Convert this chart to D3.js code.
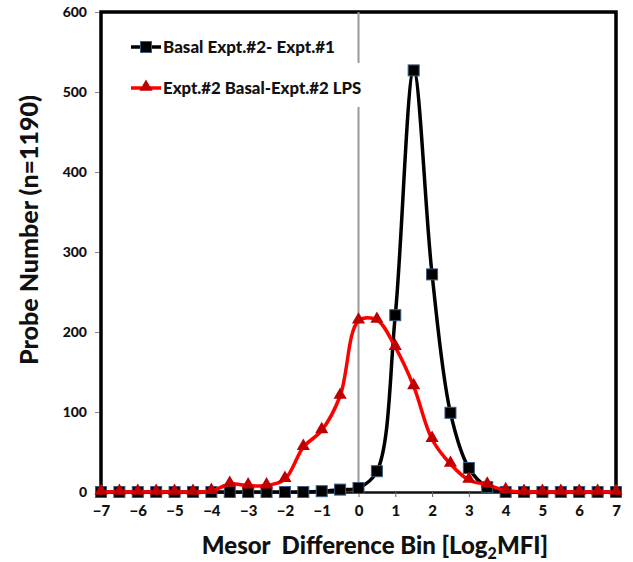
<!DOCTYPE html>
<html>
<head>
<meta charset="utf-8">
<script src="https://cdn.jsdelivr.net/npm/d3@7"></script>
<style>
  body { margin: 0; background: #fff; }
  text { font-family: Lato, "Open Sans", sans-serif; font-weight: 900; fill: #111; }
</style>
</head>
<body>
<div id="chart"></div>
<script>
// bins on the x axis, 0.5 apart
const bins = [-7, -6.5, -6, -5.5, -5, -4.5, -4, -3.5, -3, -2.5, -2, -1.5, -1, -0.5,
  0, 0.5, 1, 1.5, 2, 2.5, 3, 3.5, 4, 4.5, 5, 5.5, 6, 6.5, 7];

// Basal Expt.#2- Expt.#1
const basalValues = [0, 0, 0, 0, 0, 0, 0, 0, 0, 0, 0, 0, 1, 3,
  5, 26, 221, 527, 272, 99, 30, 6, 0, 0, 0, 0, 0, 0, 0];

// Expt.#2 Basal-Expt.#2 LPS
const lpsValues = [0, 0, 0, 0, 0, 0, 1, 10, 8, 8, 16, 56, 77, 120,
  214, 215, 181, 132, 66, 35, 15, 9, 2, 0, 0, 0, 0, 0, 0];

const xTicks = [-7, -6, -5, -4, -3, -2, -1, 0, 1, 2, 3, 4, 5, 6, 7];
const yTicks = [0, 100, 200, 300, 400, 500, 600];

const seriesNames = ["Basal Expt.#2- Expt.#1", "Expt.#2 Basal-Expt.#2 LPS"];

const width = 633, height = 562;
const margin = { top: 12, right: 17, bottom: 70, left: 101 };

const svg = d3.select("#chart").append("svg")
  .attr("width", width)
  .attr("height", height);

const x = d3.scaleLinear().domain([-7, 7]).range([margin.left, width - margin.right]);
const y = d3.scaleLinear().domain([0, 600]).range([height - margin.bottom, margin.top]);

// y ticks + labels on the left
const yAxis = svg.append("g")
  .attr("transform", `translate(${x(-7) - 2},0)`)
  .call(d3.axisLeft(y).tickValues(yTicks).tickSize(4).tickPadding(8));
yAxis.select(".domain").remove();
yAxis.selectAll("line").attr("stroke", "#888");
yAxis.selectAll("text").style("font-size", "14px").attr("fill", "#111");

// x axis at y = 0
const xAxis = svg.append("g")
  .attr("transform", `translate(0,${y(0)})`)
  .call(d3.axisBottom(x).tickValues(xTicks).tickSize(5).tickPadding(8));
xAxis.select(".domain").attr("stroke", "#111").attr("stroke-width", 2.5);
xAxis.selectAll("line").attr("stroke", "#666");
xAxis.selectAll("text").style("font-size", "15px").attr("fill", "#111");

// plot frame (left, top, right)
svg.append("path")
  .attr("d", `M${x(-7)},${y(0)}V${y(600)}H${x(7)}V${y(0)}`)
  .attr("fill", "none")
  .attr("stroke", "#000")
  .attr("stroke-width", 3.5);

// vertical gray line at 0
svg.append("line")
  .attr("x1", x(0)).attr("x2", x(0))
  .attr("y1", y(600)).attr("y2", y(0))
  .attr("stroke", "#999")
  .attr("stroke-width", 2);

const line = d3.line()
  .x((d, i) => x(bins[i]))
  .y(d => y(d))
  .curve(d3.curveCatmullRom.alpha(0.5));

// black series
svg.append("path")
  .datum(basalValues)
  .attr("d", line)
  .attr("fill", "none")
  .attr("stroke", "#000")
  .attr("stroke-width", 3.5);

svg.append("g").selectAll("rect")
  .data(basalValues)
  .join("rect")
  .attr("x", (d, i) => x(bins[i]) - 5.5)
  .attr("y", d => y(d) - 5.5)
  .attr("width", 11)
  .attr("height", 11)
  .attr("fill", "#000")
  .attr("stroke", "#3a5a80")
  .attr("stroke-width", 1);

// red series
svg.append("path")
  .datum(lpsValues)
  .attr("d", line)
  .attr("fill", "none")
  .attr("stroke", "#ff0000")
  .attr("stroke-width", 3.5);

const tri = d3.symbol().type(d3.symbolTriangle).size(75);
svg.append("g").selectAll("path")
  .data(lpsValues)
  .join("path")
  .attr("d", tri)
  .attr("transform", (d, i) => `translate(${x(bins[i])},${y(d) - 1})`)
  .attr("fill", "#c00000");

// legend
const legend = svg.append("g");
legend.append("rect")
  .attr("x", 128).attr("y", 63)
  .attr("width", 236).attr("height", 44)
  .attr("fill", "#fff");

const legendRows = [
  { name: seriesNames[0], color: "#000", yy: 47, marker: "square" },
  { name: seriesNames[1], color: "#ff0000", yy: 88, marker: "tri" }
];
legendRows.forEach(r => {
  legend.append("line")
    .attr("x1", 131).attr("x2", 161)
    .attr("y1", r.yy).attr("y2", r.yy)
    .attr("stroke", r.color).attr("stroke-width", 3.5);
  if (r.marker === "square") {
    legend.append("rect")
      .attr("x", 140.5).attr("y", r.yy - 5.5)
      .attr("width", 11).attr("height", 11)
      .attr("fill", "#000").attr("stroke", "#3a5a80");
  } else {
    legend.append("path")
      .attr("d", tri)
      .attr("transform", `translate(146,${r.yy - 1})`)
      .attr("fill", "#c00000");
  }
  legend.append("text")
    .attr("x", 163).attr("y", r.yy + 6)
    .style("font-size", r.marker === "square" ? "17px" : "16.8px")
    .text(r.name);
});

// axis titles
const xt = svg.append("text")
  .attr("x", 375).attr("y", 554)
  .attr("text-anchor", "middle")
  .style("font-size", "24px")
  .attr("fill", "#222");
xt.append("tspan").text("Mesor\u00a0 Difference Bin [Log");
xt.append("tspan").attr("dy", 5).style("font-size", "16px").text("2");
xt.append("tspan").attr("dy", -5).text("MFI]");

svg.append("text")
  .attr("transform", `translate(38,230) rotate(-90)`)
  .attr("text-anchor", "middle")
  .style("font-size", "25px")
  .attr("fill", "#222")
  .text("Probe Number (n=1190)");
</script>
</body>
</html>
